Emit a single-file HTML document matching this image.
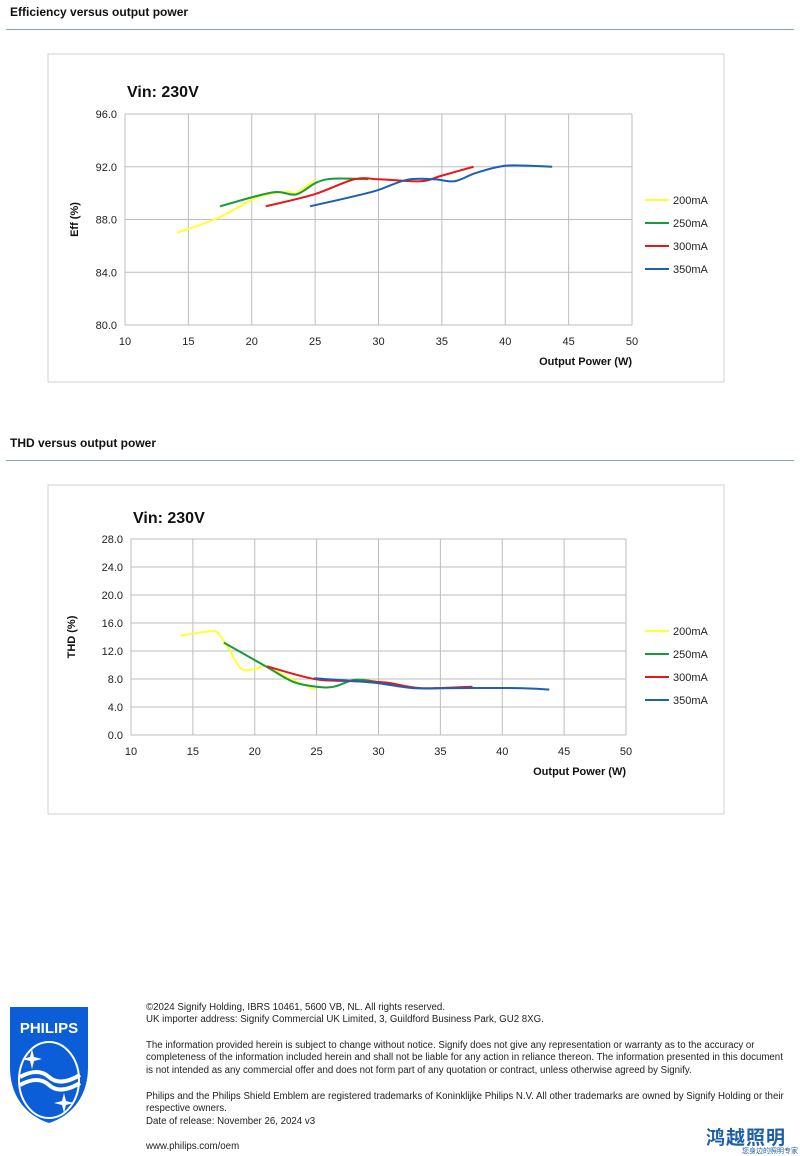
<!DOCTYPE html>
<html><head><meta charset="utf-8"><style>
body{margin:0;width:800px;height:1156px;background:#fff;font-family:"Liberation Sans",sans-serif;position:relative;overflow:hidden}
.h{position:absolute;left:10px;font-size:12px;font-weight:bold;color:#111}
.rule{position:absolute;left:6px;width:788px;height:1px;background:#8aa0c0}
.ft{position:absolute;left:146px;font-size:9.7px;line-height:12.4px;color:#222;width:645px}
</style></head><body>
<div class="h" style="top:5px">Efficiency versus output power</div>
<div class="rule" style="top:29px"></div>
<div class="h" style="top:436px">THD versus output power</div>
<div class="rule" style="top:460px"></div>
<svg id="c1" style="position:absolute;left:0;top:0" width="800" height="400"></svg>
<svg id="c2" style="position:absolute;left:0;top:0" width="800" height="830"></svg>

<svg style="position:absolute;left:8px;top:1005px" width="82" height="120" viewBox="0 0 82 120">
<path d="M2 2 H80 V62 C80 95 60 112 41 118 C22 112 2 95 2 62 Z" fill="#0b5ed7"/>
<text x="41" y="28" fill="#fff" font-size="15" font-weight="bold" text-anchor="middle" font-family="Liberation Sans">PHILIPS</text>
<ellipse cx="41" cy="75" rx="30" ry="38" fill="none" stroke="#fff" stroke-width="2"/>
<path d="M12 72 Q30 62 41 72 T72 70 M12 80 Q30 70 41 80 T72 78" stroke="#fff" stroke-width="4" fill="none"/>
<path d="M24 44 l2 8 8 2 -8 2 -2 8 -2 -8 -8 -2 8 -2z M56 88 l2 8 8 2 -8 2 -2 8 -2 -8 -8 -2 8 -2z" fill="#fff"/>
</svg>
<div class="ft" style="top:1002px">©2024 Signify Holding, IBRS 10461, 5600 VB, NL. All rights reserved.<br>UK importer address: Signify Commercial UK Limited, 3, Guildford Business Park, GU2 8XG.</div>
<div class="ft" style="top:1040px">The information provided herein is subject to change without notice. Signify does not give any representation or warranty as to the accuracy or completeness of the information included herein and shall not be liable for any action in reliance thereon. The information presented in this document is not intended as any commercial offer and does not form part of any quotation or contract, unless otherwise agreed by Signify.</div>
<div class="ft" style="top:1091px">Philips and the Philips Shield Emblem are registered trademarks of Koninklijke Philips N.V. All other trademarks are owned by Signify Holding or their respective owners.<br>Date of release: November 26, 2024 v3</div>
<div class="ft" style="top:1141px">www.philips.com/oem</div>
<div style="position:absolute;left:706px;top:1123px;font-family:'Noto Sans CJK SC',sans-serif;font-size:19px;font-weight:bold;color:#1d5fa8;letter-spacing:1px">鸿越照明</div>
<div style="position:absolute;left:742px;top:1146px;font-family:'Noto Sans CJK SC',sans-serif;font-size:7px;color:#1d5fa8">您身边的照明专家</div>

<script>
const xTicks=[10,15,20,25,30,35,40,45,50];
const effTicks=[80,84,88,92,96];
const thdTicks=[0,4,8,12,16,20,24,28];
const seriesNames=["200mA","250mA","300mA","350mA"];
const colors=["#ffff33","#1a9a3a","#e8161b","#1d5fb0"];
const effW200=[14.1,17.3,20.5,22.8,23.5,25.0];
const effV200=[87.0,88.1,89.7,90.1,90.0,91.0];
const effW250=[17.5,21.6,23.5,25.1,26.5,29.2];
const effV250=[89.0,90.05,89.9,90.8,91.1,91.05];
const effW300=[21.1,24.9,28.1,30,33.3,34.9,37.5];
const effV300=[89.0,89.9,91.05,91.05,90.9,91.3,92.0];
const effW350=[24.6,29.5,32.2,34.4,36,37.6,39.5,40.8,43.7];
const effV350=[89.0,90.1,91.0,91.05,90.9,91.5,92.0,92.1,92.0];
const thdW200=[14.0,16.3,17.0,17.8,18.9,20.0,21.0,22.8,24.9];
const thdV200=[14.2,14.8,14.6,12.6,9.5,9.4,9.8,8.1,6.5];
const thdW250=[17.5,20.9,23.1,25.0,26.4,28.1,29.8];
const thdV250=[13.2,9.8,7.6,6.9,6.9,7.9,7.6];
const thdW300=[21.0,24.8,27.8,30.6,33.4,37.6];
const thdV300=[9.8,8.0,7.7,7.5,6.7,6.9];
const thdW350=[24.8,29.5,32.8,36.2,41.2,43.8];
const thdV350=[8.1,7.5,6.7,6.7,6.7,6.5];

const NS="http://www.w3.org/2000/svg";
function mk(svg,tag,attrs,txt){const e=document.createElementNS(NS,tag);for(const k in attrs)e.setAttribute(k,attrs[k]);if(txt!==undefined)e.textContent=txt;svg.appendChild(e);return e;}
function smooth(pts){let d="M"+pts[0][0]+" "+pts[0][1];for(let i=0;i<pts.length-1;i++){const p0=pts[Math.max(0,i-1)],p1=pts[i],p2=pts[i+1],p3=pts[Math.min(pts.length-1,i+2)];const c1=[p1[0]+(p2[0]-p0[0])/6,p1[1]+(p2[1]-p0[1])/6],c2=[p2[0]-(p3[0]-p1[0])/6,p2[1]-(p3[1]-p1[1])/6];d+=" C"+c1.join(" ")+" "+c2.join(" ")+" "+p2.join(" ");}return d;}
function chart(id,cfg){
 const svg=document.getElementById(id);
 const X=w=>cfg.x0+(w-10)/40*(cfg.x1-cfg.x0);
 const Y=v=>cfg.yb-(v-cfg.ymin)/(cfg.ymax-cfg.ymin)*(cfg.yb-cfg.yt);
 let e=mk(svg,"rect",{x:cfg.fx,y:cfg.fy,width:cfg.fw,height:cfg.fh,fill:"#fff",stroke:"#d0d0d0"});
 
 
 xTicks.forEach(t=>{e=mk(svg,"line",{x1:X(t),x2:X(t),y1:cfg.yt,y2:cfg.yb,stroke:"#bdbdbd","stroke-width":1});
  
  
  e=mk(svg,"text",{x:X(t),y:cfg.yb+20,"font-size":11,"text-anchor":"middle",fill:"#222"},t);
  
  });
 cfg.ticks.forEach(t=>{e=mk(svg,"line",{x1:cfg.x0,x2:cfg.x1,y1:Y(t),y2:Y(t),stroke:"#bdbdbd","stroke-width":1});
  
  
  e=mk(svg,"text",{x:cfg.x0-8,y:Y(t)+4,"font-size":11,"text-anchor":"end",fill:"#222"},t.toFixed(1));
  
  });
 e=mk(svg,"text",{x:cfg.tx,y:cfg.ty,"font-size":16,"font-weight":"bold",fill:"#111"},"Vin: 230V");
 
 
 e=mk(svg,"text",{x:cfg.x1,y:cfg.yb+40,"font-size":11,"font-weight":"bold","text-anchor":"end",fill:"#111"},"Output Power (W)");
 
 
 const yc=(cfg.yt+cfg.yb)/2;
 e=mk(svg,"text",{x:cfg.yax,y:yc,"font-size":11,"font-weight":"bold","text-anchor":"middle",fill:"#111",transform:"rotate(-90 "+cfg.yax+" "+yc+")"},cfg.ylab);
 
 
 cfg.series.forEach((s,i)=>{const pts=s[0].map((w,j)=>[X(w),Y(s[1][j])]);
  e=mk(svg,"path",{d:smooth(pts),fill:"none",stroke:colors[i],"stroke-width":2});
  
  
  const ly=cfg.ly+i*23;
  e=mk(svg,"line",{x1:cfg.lx,x2:cfg.lx+24,y1:ly,y2:ly,stroke:colors[i],"stroke-width":2});
  
  
  e=mk(svg,"text",{x:cfg.lx+28,y:ly+4,"font-size":11,fill:"#222"},seriesNames[i]);
  
  });
}
chart("c1",{fx:48,fy:54,fw:676,fh:328,x0:125,x1:632,yt:114,yb:325,ymin:80,ymax:96,ticks:effTicks,tx:127,ty:97,yax:78,ylab:"Eff  (%)",lx:645,ly:200,
 series:[[effW200,effV200],[effW250,effV250],[effW300,effV300],[effW350,effV350]]});
chart("c2",{fx:48,fy:485,fw:676,fh:329,x0:131,x1:626,yt:539,yb:735,ymin:0,ymax:28,ticks:thdTicks,tx:133,ty:523,yax:75,ylab:"THD  (%)",lx:645,ly:631,
 series:[[thdW200,thdV200],[thdW250,thdV250],[thdW300,thdV300],[thdW350,thdV350]]});
</script>
</body></html>
